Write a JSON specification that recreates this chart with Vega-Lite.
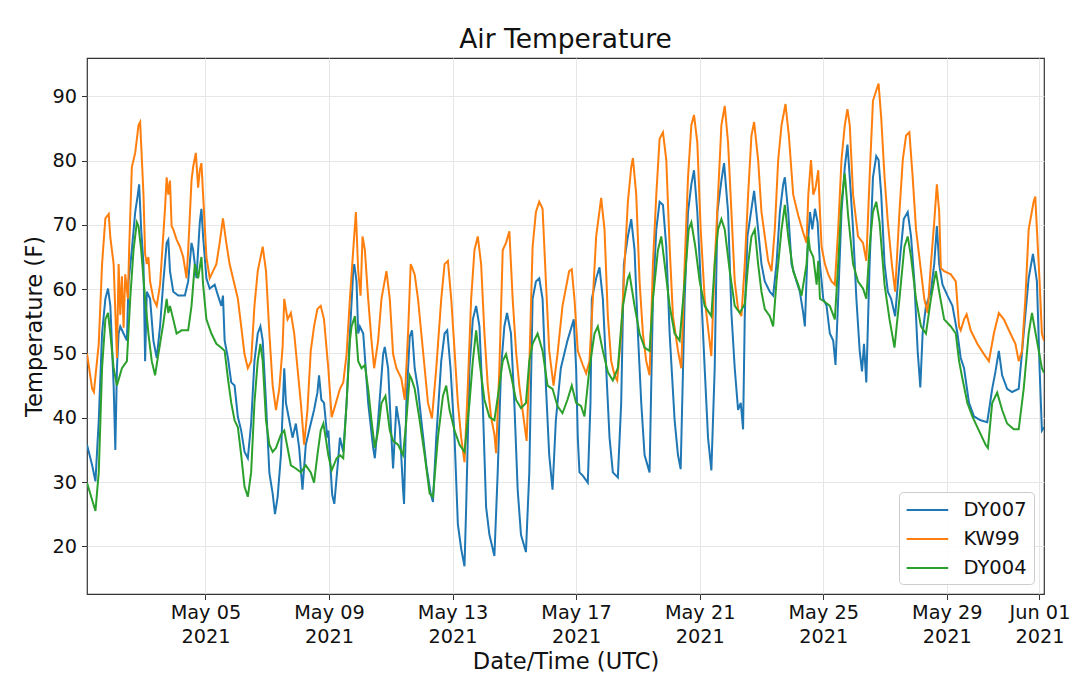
{
  "$schema": "https://vega.github.io/schema/vega-lite/v6.json",
  "width": 957,
  "height": 536,
  "autosize": {"type": "none"},
  "padding": {"left": 87, "top": 58, "right": 36, "bottom": 99},
  "background": "white",
  "title": {
    "text": "Air Temperature",
    "font": "DejaVu Sans",
    "fontSize": 26.5,
    "fontWeight": "normal",
    "color": "#111111",
    "baseline": "alphabetic",
    "offset": -16
  },
  "datasets": {
    "DY007": [
      {"t":"2021-05-01T04:00Z","v":35.8},{"t":"2021-05-01T08:00Z","v":32.6},{"t":"2021-05-01T10:34Z","v":30.1},{"t":"2021-05-01T13:08Z","v":39.6},
      {"t":"2021-05-01T15:42Z","v":53.1},{"t":"2021-05-01T18:16Z","v":58.5},{"t":"2021-05-01T20:20Z","v":60.1},{"t":"2021-05-01T22:08Z","v":57.4},
      {"t":"2021-05-02T00:42Z","v":45},{"t":"2021-05-02T02:00Z","v":35},{"t":"2021-05-02T03:16Z","v":47.7},{"t":"2021-05-02T04:34Z","v":53.1},
      {"t":"2021-05-02T05:51Z","v":54.2},{"t":"2021-05-02T08:25Z","v":53.1},{"t":"2021-05-02T11:00Z","v":52},{"t":"2021-05-02T12:17Z","v":61.2},
      {"t":"2021-05-02T14:51Z","v":66.1},{"t":"2021-05-02T17:27Z","v":72},{"t":"2021-05-02T19:29Z","v":74.7},{"t":"2021-05-02T20:31Z","v":76.3},
      {"t":"2021-05-02T22:05Z","v":69.3},{"t":"2021-05-02T23:53Z","v":63.9},{"t":"2021-05-03T01:09Z","v":48.8},{"t":"2021-05-03T02:27Z","v":59.6},
      {"t":"2021-05-03T05:01Z","v":58.5},{"t":"2021-05-03T07:35Z","v":52},{"t":"2021-05-03T10:11Z","v":49.3},{"t":"2021-05-03T12:45Z","v":54.2},
      {"t":"2021-05-03T15:19Z","v":61.2},{"t":"2021-05-03T17:53Z","v":67.2},{"t":"2021-05-03T19:11Z","v":67.7},{"t":"2021-05-03T20:28Z","v":62.8},
      {"t":"2021-05-03T23:02Z","v":59.6},{"t":"2021-05-04T02:54Z","v":59},{"t":"2021-05-04T08:02Z","v":59},{"t":"2021-05-04T10:36Z","v":61.2},
      {"t":"2021-05-04T13:12Z","v":67.2},{"t":"2021-05-04T14:28Z","v":66.1},{"t":"2021-05-04T17:02Z","v":61.7},{"t":"2021-05-04T19:38Z","v":70.4},
      {"t":"2021-05-04T20:54Z","v":72.5},{"t":"2021-05-04T22:12Z","v":68.2},{"t":"2021-05-05T00:46Z","v":61.7},{"t":"2021-05-05T03:20Z","v":60.1},
      {"t":"2021-05-05T07:12Z","v":60.7},{"t":"2021-05-05T09:47Z","v":59},{"t":"2021-05-05T12:22Z","v":57.4},{"t":"2021-05-05T13:38Z","v":59},
      {"t":"2021-05-05T14:56Z","v":52},{"t":"2021-05-05T17:30Z","v":49.3},{"t":"2021-05-05T20:04Z","v":45.5},{"t":"2021-05-05T22:39Z","v":45},
      {"t":"2021-05-06T01:13Z","v":40.1},{"t":"2021-05-06T03:48Z","v":38},{"t":"2021-05-06T06:22Z","v":34.7},{"t":"2021-05-06T08:57Z","v":33.7},
      {"t":"2021-05-06T11:31Z","v":39.1},{"t":"2021-05-06T14:05Z","v":48.8},{"t":"2021-05-06T16:39Z","v":53.1},{"t":"2021-05-06T18:43Z","v":54.2},
      {"t":"2021-05-06T20:31Z","v":52},{"t":"2021-05-06T23:05Z","v":42.3},{"t":"2021-05-07T01:41Z","v":31.4},{"t":"2021-05-07T04:15Z","v":28.2},
      {"t":"2021-05-07T06:03Z","v":25},{"t":"2021-05-07T08:07Z","v":27.7},{"t":"2021-05-07T10:41Z","v":34.2},{"t":"2021-05-07T13:15Z","v":47.7},
      {"t":"2021-05-07T14:33Z","v":42.3},{"t":"2021-05-07T17:07Z","v":39.6},{"t":"2021-05-07T19:41Z","v":36.9},{"t":"2021-05-07T22:16Z","v":39.1},
      {"t":"2021-05-08T00:50Z","v":35.3},{"t":"2021-05-08T03:24Z","v":28.8},{"t":"2021-05-08T05:59Z","v":35.8},{"t":"2021-05-08T08:34Z","v":38},
      {"t":"2021-05-08T12:24Z","v":41.2},{"t":"2021-05-08T15:00Z","v":43.9},{"t":"2021-05-08T16:16Z","v":46.6},{"t":"2021-05-08T18:04Z","v":42.8},
      {"t":"2021-05-08T20:08Z","v":42.3},{"t":"2021-05-08T22:42Z","v":36.9},{"t":"2021-05-08T23:30Z","v":38},{"t":"2021-05-09T02:30Z","v":28},
      {"t":"2021-05-09T04:08Z","v":26.6},{"t":"2021-05-09T07:13Z","v":33.7},{"t":"2021-05-09T08:31Z","v":36.9},{"t":"2021-05-09T11:05Z","v":34.7},
      {"t":"2021-05-09T13:41Z","v":42.3},{"t":"2021-05-09T16:15Z","v":53.1},{"t":"2021-05-09T18:50Z","v":62.8},{"t":"2021-05-09T19:36Z","v":63.9},
      {"t":"2021-05-09T21:24Z","v":61.2},{"t":"2021-05-09T22:42Z","v":53.1},{"t":"2021-05-10T00:00Z","v":54.2},{"t":"2021-05-10T02:36Z","v":53.1},
      {"t":"2021-05-10T06:27Z","v":42.3},{"t":"2021-05-10T10:19Z","v":35.3},{"t":"2021-05-10T11:37Z","v":33.7},{"t":"2021-05-10T14:11Z","v":39.6},
      {"t":"2021-05-10T18:04Z","v":49.9},{"t":"2021-05-10T19:21Z","v":51},{"t":"2021-05-10T21:56Z","v":47.7},{"t":"2021-05-11T00:32Z","v":36.9},
      {"t":"2021-05-11T01:48Z","v":32.1},{"t":"2021-05-11T04:24Z","v":41.8},{"t":"2021-05-11T06:58Z","v":38.5},{"t":"2021-05-11T09:33Z","v":28.8},
      {"t":"2021-05-11T10:19Z","v":26.6},{"t":"2021-05-11T12:07Z","v":42.3},{"t":"2021-05-11T14:43Z","v":52.6},{"t":"2021-05-11T16:31Z","v":53.6},
      {"t":"2021-05-11T18:35Z","v":47.7},{"t":"2021-05-11T21:10Z","v":44.5},{"t":"2021-05-11T23:44Z","v":39.6},{"t":"2021-05-12T03:37Z","v":32.6},
      {"t":"2021-05-12T06:58Z","v":28.2},{"t":"2021-05-12T08:47Z","v":26.9},{"t":"2021-05-12T11:21Z","v":36.9},{"t":"2021-05-12T15:13Z","v":48.8},
      {"t":"2021-05-12T17:48Z","v":53.1},{"t":"2021-05-12T19:52Z","v":53.6},{"t":"2021-05-12T22:26Z","v":47.7},{"t":"2021-05-13T01:34Z","v":36.9},
      {"t":"2021-05-13T04:08Z","v":23.4},{"t":"2021-05-13T06:43Z","v":19.6},{"t":"2021-05-13T09:17Z","v":16.9},{"t":"2021-05-13T10:35Z","v":26.1},
      {"t":"2021-05-13T13:09Z","v":47.7},{"t":"2021-05-13T15:45Z","v":55.3},{"t":"2021-05-13T18:19Z","v":57.4},{"t":"2021-05-13T20:54Z","v":54.2},
      {"t":"2021-05-13T23:28Z","v":42.3},{"t":"2021-05-14T02:04Z","v":26.1},{"t":"2021-05-14T04:39Z","v":21.8},{"t":"2021-05-14T08:31Z","v":18.5},
      {"t":"2021-05-14T11:05Z","v":31.5},{"t":"2021-05-14T13:41Z","v":47.7},{"t":"2021-05-14T16:15Z","v":54.2},{"t":"2021-05-14T18:19Z","v":56.3},
      {"t":"2021-05-14T21:24Z","v":53.1},{"t":"2021-05-15T00:00Z","v":42.3},{"t":"2021-05-15T02:36Z","v":28.8},{"t":"2021-05-15T05:10Z","v":21.8},
      {"t":"2021-05-15T09:01Z","v":19.1},{"t":"2021-05-15T11:37Z","v":31.5},{"t":"2021-05-15T14:11Z","v":58.5},{"t":"2021-05-15T16:47Z","v":61.2},
      {"t":"2021-05-15T19:21Z","v":61.7},{"t":"2021-05-15T21:56Z","v":58.5},{"t":"2021-05-16T00:32Z","v":45},{"t":"2021-05-16T03:06Z","v":34.2},
      {"t":"2021-05-16T05:41Z","v":28.8},{"t":"2021-05-16T08:15Z","v":39.6},{"t":"2021-05-16T12:07Z","v":47.7},{"t":"2021-05-16T17:17Z","v":52},
      {"t":"2021-05-16T22:10Z","v":55.3},{"t":"2021-05-17T00:00Z","v":47.7},{"t":"2021-05-17T01:18Z","v":36.9},{"t":"2021-05-17T02:36Z","v":31.5},
      {"t":"2021-05-17T05:11Z","v":31},{"t":"2021-05-17T09:04Z","v":29.9},{"t":"2021-05-17T11:10Z","v":42.3},{"t":"2021-05-17T12:12Z","v":58.5},
      {"t":"2021-05-17T15:35Z","v":61.7},{"t":"2021-05-17T18:10Z","v":63.4},{"t":"2021-05-17T20:46Z","v":58.5},{"t":"2021-05-17T23:21Z","v":47.7},
      {"t":"2021-05-18T01:57Z","v":36.9},{"t":"2021-05-18T04:32Z","v":31.5},{"t":"2021-05-18T08:25Z","v":30.7},{"t":"2021-05-18T11:01Z","v":42.3},
      {"t":"2021-05-18T13:06Z","v":63.9},{"t":"2021-05-18T16:13Z","v":68.2},{"t":"2021-05-18T18:49Z","v":70.9},{"t":"2021-05-18T21:24Z","v":66.1},
      {"t":"2021-05-19T00:00Z","v":53.1},{"t":"2021-05-19T02:36Z","v":42.3},{"t":"2021-05-19T05:11Z","v":34.2},{"t":"2021-05-19T09:04Z","v":31.5},
      {"t":"2021-05-19T11:40Z","v":58.5},{"t":"2021-05-19T14:17Z","v":69.3},{"t":"2021-05-19T16:52Z","v":73.6},{"t":"2021-05-19T19:28Z","v":73.1},
      {"t":"2021-05-19T22:03Z","v":66.6},{"t":"2021-05-20T00:39Z","v":53.1},{"t":"2021-05-20T04:32Z","v":39.6},{"t":"2021-05-20T07:08Z","v":34.2},
      {"t":"2021-05-20T09:13Z","v":32},{"t":"2021-05-20T12:20Z","v":58.5},{"t":"2021-05-20T14:56Z","v":72},{"t":"2021-05-20T17:31Z","v":76.3},
      {"t":"2021-05-20T19:35Z","v":78.5},{"t":"2021-05-20T22:10Z","v":72},{"t":"2021-05-21T00:46Z","v":61.2},{"t":"2021-05-21T03:53Z","v":47.7},
      {"t":"2021-05-21T06:29Z","v":36.9},{"t":"2021-05-21T09:04Z","v":31.8},{"t":"2021-05-21T11:40Z","v":47.7},{"t":"2021-05-21T13:45Z","v":72},
      {"t":"2021-05-21T16:52Z","v":76.9},{"t":"2021-05-21T18:56Z","v":79.6},{"t":"2021-05-21T22:03Z","v":72},{"t":"2021-05-22T00:39Z","v":56.3},
      {"t":"2021-05-22T03:14Z","v":47.7},{"t":"2021-05-22T05:50Z","v":41.2},{"t":"2021-05-22T07:55Z","v":42.3},{"t":"2021-05-22T09:43Z","v":38.2},
      {"t":"2021-05-22T11:01Z","v":55.8},{"t":"2021-05-22T13:06Z","v":68.2},{"t":"2021-05-22T16:13Z","v":72.5},{"t":"2021-05-22T18:17Z","v":75.3},
      {"t":"2021-05-22T21:24Z","v":69.3},{"t":"2021-05-23T00:00Z","v":63.9},{"t":"2021-05-23T02:36Z","v":61.2},{"t":"2021-05-23T06:29Z","v":59.6},
      {"t":"2021-05-23T09:04Z","v":59},{"t":"2021-05-23T11:40Z","v":63.9},{"t":"2021-05-23T14:17Z","v":72},{"t":"2021-05-23T16:52Z","v":76.3},
      {"t":"2021-05-23T18:10Z","v":77.4},{"t":"2021-05-23T20:46Z","v":72},{"t":"2021-05-23T23:21Z","v":63.9},{"t":"2021-05-24T03:14Z","v":61.2},
      {"t":"2021-05-24T05:50Z","v":59.6},{"t":"2021-05-24T08:25Z","v":56.3},{"t":"2021-05-24T09:43Z","v":54.2},{"t":"2021-05-24T11:54Z","v":66.6},
      {"t":"2021-05-24T13:42Z","v":72},{"t":"2021-05-24T15:30Z","v":69.3},{"t":"2021-05-24T17:34Z","v":72.5},{"t":"2021-05-24T19:38Z","v":70.4},
      {"t":"2021-05-24T21:26Z","v":63.9},{"t":"2021-05-25T00:00Z","v":58.5},{"t":"2021-05-25T02:34Z","v":57.4},{"t":"2021-05-25T05:08Z","v":53.1},
      {"t":"2021-05-25T07:44Z","v":52},{"t":"2021-05-25T09:32Z","v":48.2},{"t":"2021-05-25T11:36Z","v":58.5},{"t":"2021-05-25T14:10Z","v":72},
      {"t":"2021-05-25T16:44Z","v":79},{"t":"2021-05-25T18:48Z","v":82.5},{"t":"2021-05-25T20:36Z","v":77.4},{"t":"2021-05-25T23:10Z","v":69.3},
      {"t":"2021-05-26T01:44Z","v":58.5},{"t":"2021-05-26T04:19Z","v":50.4},{"t":"2021-05-26T06:07Z","v":47.2},{"t":"2021-05-26T07:39Z","v":51.5},
      {"t":"2021-05-26T09:27Z","v":45.5},{"t":"2021-05-26T12:01Z","v":63.9},{"t":"2021-05-26T14:37Z","v":77.4},{"t":"2021-05-26T17:11Z","v":80.7},
      {"t":"2021-05-26T18:59Z","v":80.1},{"t":"2021-05-26T21:03Z","v":74.7},{"t":"2021-05-26T23:37Z","v":63.9},{"t":"2021-05-27T02:11Z","v":59.6},
      {"t":"2021-05-27T04:45Z","v":58.5},{"t":"2021-05-27T07:51Z","v":55.8},{"t":"2021-05-27T11:11Z","v":63.9},{"t":"2021-05-27T14:33Z","v":70.9},
      {"t":"2021-05-27T17:38Z","v":72},{"t":"2021-05-27T20:12Z","v":68.2},{"t":"2021-05-27T22:47Z","v":61.2},{"t":"2021-05-28T01:21Z","v":50.4},
      {"t":"2021-05-28T03:24Z","v":44.7},{"t":"2021-05-28T05:12Z","v":53.1},{"t":"2021-05-28T07:47Z","v":57.4},{"t":"2021-05-28T11:38Z","v":59.6},
      {"t":"2021-05-28T14:12Z","v":63.9},{"t":"2021-05-28T16:16Z","v":69.8},{"t":"2021-05-28T18:04Z","v":63.9},{"t":"2021-05-28T20:40Z","v":60.7},
      {"t":"2021-05-29T00:30Z","v":59},{"t":"2021-05-29T04:22Z","v":57.4},{"t":"2021-05-29T08:14Z","v":53.1},{"t":"2021-05-29T10:48Z","v":49.3},
      {"t":"2021-05-29T13:24Z","v":47.7},{"t":"2021-05-29T17:14Z","v":42.3},{"t":"2021-05-29T21:06Z","v":40.2},{"t":"2021-05-30T02:15Z","v":39.6},
      {"t":"2021-05-30T07:24Z","v":39.3},{"t":"2021-05-30T11:15Z","v":44.5},{"t":"2021-05-30T13:49Z","v":47.2},{"t":"2021-05-30T16:25Z","v":50.4},
      {"t":"2021-05-30T18:59Z","v":46.6},{"t":"2021-05-30T22:51Z","v":44.5},{"t":"2021-05-31T02:43Z","v":44},{"t":"2021-05-31T07:51Z","v":44.5},
      {"t":"2021-05-31T11:43Z","v":53.1},{"t":"2021-05-31T15:35Z","v":61.7},{"t":"2021-05-31T18:55Z","v":65.5},{"t":"2021-05-31T22:00Z","v":61.2},
      {"t":"2021-06-01T00:04Z","v":47.7},{"t":"2021-06-01T01:52Z","v":38},{"t":"2021-06-01T03:30Z","v":38.5}
    ],
    "KW99": [
      {"t":"2021-05-01T04:00Z","v":50},{"t":"2021-05-01T08:00Z","v":44.5},{"t":"2021-05-01T09:20Z","v":44},{"t":"2021-05-01T13:08Z","v":51.5},
      {"t":"2021-05-01T15:42Z","v":63.9},{"t":"2021-05-01T18:16Z","v":71},{"t":"2021-05-01T20:53Z","v":71.7},{"t":"2021-05-01T22:08Z","v":68},
      {"t":"2021-05-02T00:42Z","v":63.9},{"t":"2021-05-02T03:16Z","v":49.3},{"t":"2021-05-02T04:34Z","v":63.9},{"t":"2021-05-02T05:51Z","v":56},
      {"t":"2021-05-02T07:08Z","v":62},{"t":"2021-05-02T08:25Z","v":54},{"t":"2021-05-02T09:43Z","v":62.3},{"t":"2021-05-02T11:47Z","v":58.5},
      {"t":"2021-05-02T12:43Z","v":66},{"t":"2021-05-02T14:51Z","v":79},{"t":"2021-05-02T17:27Z","v":81.2},{"t":"2021-05-02T20:01Z","v":85.5},
      {"t":"2021-05-02T21:17Z","v":86},{"t":"2021-05-02T23:53Z","v":74.7},{"t":"2021-05-03T01:09Z","v":65.5},{"t":"2021-05-03T02:27Z","v":63.9},
      {"t":"2021-05-03T03:43Z","v":65},{"t":"2021-05-03T05:01Z","v":61.2},{"t":"2021-05-03T07:35Z","v":58.5},{"t":"2021-05-03T10:11Z","v":57.4},
      {"t":"2021-05-03T12:45Z","v":60.7},{"t":"2021-05-03T16:36Z","v":72.5},{"t":"2021-05-03T17:53Z","v":77.4},{"t":"2021-05-03T19:11Z","v":74.7},
      {"t":"2021-05-03T20:28Z","v":76.9},{"t":"2021-05-03T21:45Z","v":69.8},{"t":"2021-05-03T23:02Z","v":69.3},{"t":"2021-05-04T01:36Z","v":67.7},
      {"t":"2021-05-04T04:11Z","v":66.6},{"t":"2021-05-04T06:46Z","v":65},{"t":"2021-05-04T09:20Z","v":61.7},{"t":"2021-05-04T10:36Z","v":66},
      {"t":"2021-05-04T13:12Z","v":76.9},{"t":"2021-05-04T14:28Z","v":79},{"t":"2021-05-04T16:32Z","v":81.2},{"t":"2021-05-04T18:20Z","v":75.8},
      {"t":"2021-05-04T19:38Z","v":78.5},{"t":"2021-05-04T20:54Z","v":79.6},{"t":"2021-05-04T22:12Z","v":74.7},{"t":"2021-05-05T00:46Z","v":65},
      {"t":"2021-05-05T03:20Z","v":61.7},{"t":"2021-05-05T05:55Z","v":62.8},{"t":"2021-05-05T08:30Z","v":63.9},{"t":"2021-05-05T11:04Z","v":67.2},
      {"t":"2021-05-05T13:38Z","v":71},{"t":"2021-05-05T16:13Z","v":67.2},{"t":"2021-05-05T18:47Z","v":63.9},{"t":"2021-05-05T22:39Z","v":60.7},
      {"t":"2021-05-06T01:13Z","v":58.5},{"t":"2021-05-06T03:48Z","v":54.2},{"t":"2021-05-06T06:22Z","v":49.9},{"t":"2021-05-06T08:57Z","v":47.7},
      {"t":"2021-05-06T11:31Z","v":48.8},{"t":"2021-05-06T14:05Z","v":57.4},{"t":"2021-05-06T16:39Z","v":62.8},{"t":"2021-05-06T20:31Z","v":66.6},
      {"t":"2021-05-06T23:05Z","v":62.8},{"t":"2021-05-07T01:41Z","v":53.1},{"t":"2021-05-07T04:15Z","v":45},{"t":"2021-05-07T06:49Z","v":41.2},
      {"t":"2021-05-07T09:23Z","v":44.5},{"t":"2021-05-07T11:59Z","v":51},{"t":"2021-05-07T13:15Z","v":58.5},{"t":"2021-05-07T15:50Z","v":55.3},
      {"t":"2021-05-07T18:24Z","v":56.3},{"t":"2021-05-07T20:59Z","v":53.1},{"t":"2021-05-07T23:33Z","v":47.7},{"t":"2021-05-08T02:07Z","v":42.3},
      {"t":"2021-05-08T04:42Z","v":35.8},{"t":"2021-05-08T07:16Z","v":41.2},{"t":"2021-05-08T09:50Z","v":50.4},{"t":"2021-05-08T12:24Z","v":54.2},
      {"t":"2021-05-08T15:00Z","v":56.9},{"t":"2021-05-08T17:34Z","v":57.4},{"t":"2021-05-08T20:08Z","v":55.3},{"t":"2021-05-08T23:28Z","v":47.7},
      {"t":"2021-05-09T02:04Z","v":40.1},{"t":"2021-05-09T04:40Z","v":41.8},{"t":"2021-05-09T08:31Z","v":44.5},{"t":"2021-05-09T11:05Z","v":45.5},
      {"t":"2021-05-09T13:41Z","v":49.9},{"t":"2021-05-09T16:15Z","v":58.5},{"t":"2021-05-09T18:50Z","v":66.1},{"t":"2021-05-09T20:54Z","v":72},
      {"t":"2021-05-09T22:42Z","v":62.8},{"t":"2021-05-10T00:32Z","v":59},{"t":"2021-05-10T02:04Z","v":68.2},{"t":"2021-05-10T03:52Z","v":66.1},
      {"t":"2021-05-10T06:27Z","v":58.5},{"t":"2021-05-10T09:01Z","v":52},{"t":"2021-05-10T11:05Z","v":47.7},{"t":"2021-05-10T14:11Z","v":52},
      {"t":"2021-05-10T16:47Z","v":58.5},{"t":"2021-05-10T20:38Z","v":62.8},{"t":"2021-05-10T23:14Z","v":58.5},{"t":"2021-05-11T01:48Z","v":49.9},
      {"t":"2021-05-11T04:24Z","v":47.7},{"t":"2021-05-11T08:15Z","v":46.1},{"t":"2021-05-11T10:51Z","v":42.8},{"t":"2021-05-11T13:25Z","v":53.1},
      {"t":"2021-05-11T15:29Z","v":63.9},{"t":"2021-05-11T18:35Z","v":62.3},{"t":"2021-05-11T21:10Z","v":58.5},{"t":"2021-05-11T23:44Z","v":53.1},
      {"t":"2021-05-12T02:20Z","v":47.7},{"t":"2021-05-12T04:54Z","v":42.3},{"t":"2021-05-12T08:00Z","v":39.9},{"t":"2021-05-12T11:21Z","v":47.7},
      {"t":"2021-05-12T15:13Z","v":58.5},{"t":"2021-05-12T17:48Z","v":63.9},{"t":"2021-05-12T20:23Z","v":64.4},{"t":"2021-05-12T22:58Z","v":58.5},
      {"t":"2021-05-13T01:34Z","v":50.4},{"t":"2021-05-13T04:08Z","v":42.3},{"t":"2021-05-13T06:43Z","v":36.9},{"t":"2021-05-13T09:17Z","v":33.1},
      {"t":"2021-05-13T11:53Z","v":45},{"t":"2021-05-13T14:27Z","v":58.5},{"t":"2021-05-13T17:02Z","v":66.1},{"t":"2021-05-13T19:36Z","v":68.2},
      {"t":"2021-05-13T22:12Z","v":63.9},{"t":"2021-05-14T00:46Z","v":53.1},{"t":"2021-05-14T03:22Z","v":45},{"t":"2021-05-14T05:56Z","v":40.1},
      {"t":"2021-05-14T08:31Z","v":37.4},{"t":"2021-05-14T09:49Z","v":34.5},{"t":"2021-05-14T12:23Z","v":47.7},{"t":"2021-05-14T14:59Z","v":66.1},
      {"t":"2021-05-14T17:33Z","v":67.2},{"t":"2021-05-14T20:08Z","v":69},{"t":"2021-05-14T22:42Z","v":58.5},{"t":"2021-05-15T01:18Z","v":50.4},
      {"t":"2021-05-15T03:52Z","v":45},{"t":"2021-05-15T07:45Z","v":39.1},{"t":"2021-05-15T09:33Z","v":36.4},{"t":"2021-05-15T11:37Z","v":47.7},
      {"t":"2021-05-15T14:11Z","v":66.6},{"t":"2021-05-15T16:47Z","v":72},{"t":"2021-05-15T19:21Z","v":73.6},{"t":"2021-05-15T21:56Z","v":72.5},
      {"t":"2021-05-16T00:32Z","v":61.2},{"t":"2021-05-16T03:06Z","v":50.4},{"t":"2021-05-16T06:27Z","v":45},{"t":"2021-05-16T09:33Z","v":49.9},
      {"t":"2021-05-16T13:25Z","v":57.4},{"t":"2021-05-16T18:35Z","v":62.8},{"t":"2021-05-16T20:37Z","v":63.1},{"t":"2021-05-16T22:42Z","v":58.5},
      {"t":"2021-05-17T01:18Z","v":50.4},{"t":"2021-05-17T05:11Z","v":48.2},{"t":"2021-05-17T07:47Z","v":46.9},{"t":"2021-05-17T10:22Z","v":48.8},
      {"t":"2021-05-17T12:59Z","v":58.5},{"t":"2021-05-17T15:35Z","v":68.2},{"t":"2021-05-17T19:28Z","v":74.2},{"t":"2021-05-17T22:03Z","v":69.3},
      {"t":"2021-05-18T00:39Z","v":55.8},{"t":"2021-05-18T03:14Z","v":48.8},{"t":"2021-05-18T05:50Z","v":46.6},{"t":"2021-05-18T07:55Z","v":45.8},
      {"t":"2021-05-18T11:01Z","v":53.1},{"t":"2021-05-18T13:38Z","v":63.9},{"t":"2021-05-18T16:13Z","v":73.6},{"t":"2021-05-18T18:49Z","v":79},
      {"t":"2021-05-18T20:07Z","v":80.4},{"t":"2021-05-18T22:42Z","v":74.7},{"t":"2021-05-19T01:18Z","v":61.2},{"t":"2021-05-19T03:53Z","v":53.1},
      {"t":"2021-05-19T06:29Z","v":48.8},{"t":"2021-05-19T09:04Z","v":46.6},{"t":"2021-05-19T11:40Z","v":63.9},{"t":"2021-05-19T14:17Z","v":74.7},
      {"t":"2021-05-19T16:52Z","v":83.4},{"t":"2021-05-19T19:28Z","v":84.4},{"t":"2021-05-19T22:03Z","v":80.1},{"t":"2021-05-20T00:39Z","v":66.6},
      {"t":"2021-05-20T03:14Z","v":55.8},{"t":"2021-05-20T07:08Z","v":50.4},{"t":"2021-05-20T09:43Z","v":47.7},{"t":"2021-05-20T12:20Z","v":63.9},
      {"t":"2021-05-20T14:56Z","v":77.4},{"t":"2021-05-20T17:31Z","v":85.5},{"t":"2021-05-20T19:35Z","v":87.1},{"t":"2021-05-20T22:10Z","v":82.8},
      {"t":"2021-05-21T00:46Z","v":69.3},{"t":"2021-05-21T03:53Z","v":58.5},{"t":"2021-05-21T07:00Z","v":53.1},{"t":"2021-05-21T09:04Z","v":49.6},
      {"t":"2021-05-21T11:40Z","v":63.9},{"t":"2021-05-21T14:17Z","v":74.7},{"t":"2021-05-21T16:52Z","v":85.5},{"t":"2021-05-21T19:28Z","v":88.5},
      {"t":"2021-05-21T22:03Z","v":82.8},{"t":"2021-05-22T00:39Z","v":72},{"t":"2021-05-22T03:14Z","v":61.2},{"t":"2021-05-22T05:50Z","v":56.9},
      {"t":"2021-05-22T08:25Z","v":55.8},{"t":"2021-05-22T11:01Z","v":63.9},{"t":"2021-05-22T13:38Z","v":74.7},{"t":"2021-05-22T16:13Z","v":83.9},
      {"t":"2021-05-22T18:17Z","v":86},{"t":"2021-05-22T21:24Z","v":80.1},{"t":"2021-05-23T00:00Z","v":72},{"t":"2021-05-23T02:36Z","v":68.2},
      {"t":"2021-05-23T05:11Z","v":64.4},{"t":"2021-05-23T07:47Z","v":62.8},{"t":"2021-05-23T10:22Z","v":69.3},{"t":"2021-05-23T12:59Z","v":80.1},
      {"t":"2021-05-23T15:35Z","v":85.5},{"t":"2021-05-23T18:40Z","v":88.8},{"t":"2021-05-23T21:16Z","v":83.9},{"t":"2021-05-24T00:39Z","v":74.7},
      {"t":"2021-05-24T04:32Z","v":71.5},{"t":"2021-05-24T08:25Z","v":68.8},{"t":"2021-05-24T11:01Z","v":67.2},{"t":"2021-05-24T12:24Z","v":74.7},
      {"t":"2021-05-24T14:28Z","v":80.1},{"t":"2021-05-24T16:16Z","v":74.7},{"t":"2021-05-24T18:04Z","v":75.8},{"t":"2021-05-24T20:08Z","v":78.5},
      {"t":"2021-05-24T21:26Z","v":72},{"t":"2021-05-24T22:42Z","v":66.6},{"t":"2021-05-25T01:18Z","v":63.9},{"t":"2021-05-25T03:52Z","v":62.3},
      {"t":"2021-05-25T06:26Z","v":61.2},{"t":"2021-05-25T09:00Z","v":60.7},{"t":"2021-05-25T11:36Z","v":69.3},{"t":"2021-05-25T14:10Z","v":80.1},
      {"t":"2021-05-25T16:44Z","v":85.5},{"t":"2021-05-25T18:48Z","v":88},{"t":"2021-05-25T20:36Z","v":85.5},{"t":"2021-05-25T23:10Z","v":74.7},
      {"t":"2021-05-26T03:01Z","v":68.2},{"t":"2021-05-26T06:53Z","v":67.2},{"t":"2021-05-26T09:27Z","v":64.4},{"t":"2021-05-26T12:01Z","v":77.4},
      {"t":"2021-05-26T14:37Z","v":89.3},{"t":"2021-05-26T17:11Z","v":90.9},{"t":"2021-05-26T18:59Z","v":92},{"t":"2021-05-26T21:03Z","v":86.6},
      {"t":"2021-05-26T23:37Z","v":77.4},{"t":"2021-05-27T02:11Z","v":70.4},{"t":"2021-05-27T05:17Z","v":63.9},{"t":"2021-05-27T07:51Z","v":59.6},
      {"t":"2021-05-27T11:11Z","v":72},{"t":"2021-05-27T13:47Z","v":80.1},{"t":"2021-05-27T16:21Z","v":83.9},{"t":"2021-05-27T18:55Z","v":84.4},
      {"t":"2021-05-27T21:29Z","v":77.4},{"t":"2021-05-28T00:04Z","v":69.3},{"t":"2021-05-28T03:56Z","v":62.8},{"t":"2021-05-28T06:30Z","v":58.5},
      {"t":"2021-05-28T09:04Z","v":56.3},{"t":"2021-05-28T11:38Z","v":63.9},{"t":"2021-05-28T14:12Z","v":70.4},{"t":"2021-05-28T16:16Z","v":76.3},
      {"t":"2021-05-28T18:04Z","v":72},{"t":"2021-05-28T19:22Z","v":63.3},{"t":"2021-05-28T21:56Z","v":62.8},{"t":"2021-05-29T03:06Z","v":62.3},
      {"t":"2021-05-29T06:58Z","v":61.2},{"t":"2021-05-29T09:32Z","v":54.2},{"t":"2021-05-29T10:48Z","v":53.6},{"t":"2021-05-29T13:24Z","v":55.3},
      {"t":"2021-05-29T15:26Z","v":56.1},{"t":"2021-05-29T18:32Z","v":53.6},{"t":"2021-05-29T23:41Z","v":51.5},{"t":"2021-05-30T04:49Z","v":49.9},
      {"t":"2021-05-30T08:41Z","v":48.8},{"t":"2021-05-30T12:33Z","v":53.1},{"t":"2021-05-30T16:25Z","v":56.3},{"t":"2021-05-30T20:17Z","v":55.3},
      {"t":"2021-05-31T01:25Z","v":53.1},{"t":"2021-05-31T05:17Z","v":51.5},{"t":"2021-05-31T07:51Z","v":48.8},{"t":"2021-05-31T10:25Z","v":50.4},
      {"t":"2021-05-31T13:01Z","v":58.5},{"t":"2021-05-31T15:35Z","v":69.3},{"t":"2021-05-31T19:26Z","v":73.6},{"t":"2021-05-31T20:43Z","v":74.4},
      {"t":"2021-05-31T22:00Z","v":69.3},{"t":"2021-06-01T00:04Z","v":61.2},{"t":"2021-06-01T01:52Z","v":53.1},{"t":"2021-06-01T03:30Z","v":52}
    ],
    "DY004": [
      {"t":"2021-05-01T04:00Z","v":29.9},{"t":"2021-05-01T08:00Z","v":27.2},{"t":"2021-05-01T10:34Z","v":25.5},{"t":"2021-05-01T13:08Z","v":31.5},
      {"t":"2021-05-01T15:42Z","v":47.7},{"t":"2021-05-01T18:16Z","v":55.3},{"t":"2021-05-01T20:20Z","v":56.3},{"t":"2021-05-01T22:08Z","v":53.1},
      {"t":"2021-05-02T00:42Z","v":47.7},{"t":"2021-05-02T03:16Z","v":45},{"t":"2021-05-02T07:08Z","v":47.7},{"t":"2021-05-02T11:00Z","v":48.8},
      {"t":"2021-05-02T13:35Z","v":58.5},{"t":"2021-05-02T16:09Z","v":66.1},{"t":"2021-05-02T18:43Z","v":70.4},{"t":"2021-05-02T20:01Z","v":69.8},
      {"t":"2021-05-02T22:05Z","v":66.1},{"t":"2021-05-03T01:09Z","v":58.5},{"t":"2021-05-03T03:43Z","v":53.1},{"t":"2021-05-03T06:19Z","v":48.8},
      {"t":"2021-05-03T08:53Z","v":46.6},{"t":"2021-05-03T11:27Z","v":49.9},{"t":"2021-05-03T15:19Z","v":54.7},{"t":"2021-05-03T17:53Z","v":58.5},
      {"t":"2021-05-03T19:11Z","v":56.3},{"t":"2021-05-03T20:28Z","v":57.4},{"t":"2021-05-03T23:02Z","v":55.3},{"t":"2021-05-04T01:36Z","v":53.1},
      {"t":"2021-05-04T05:28Z","v":53.6},{"t":"2021-05-04T10:36Z","v":53.6},{"t":"2021-05-04T13:12Z","v":57.4},{"t":"2021-05-04T15:46Z","v":63.9},
      {"t":"2021-05-04T18:20Z","v":61.7},{"t":"2021-05-04T20:54Z","v":65},{"t":"2021-05-04T22:12Z","v":60.7},{"t":"2021-05-05T00:46Z","v":55.3},
      {"t":"2021-05-05T04:38Z","v":53.1},{"t":"2021-05-05T08:30Z","v":51.5},{"t":"2021-05-05T12:22Z","v":50.9},{"t":"2021-05-05T14:56Z","v":50.4},
      {"t":"2021-05-05T17:30Z","v":46.1},{"t":"2021-05-05T20:04Z","v":42.3},{"t":"2021-05-05T22:39Z","v":39.6},{"t":"2021-05-06T01:13Z","v":38.5},
      {"t":"2021-05-06T03:48Z","v":34.2},{"t":"2021-05-06T06:22Z","v":29.3},{"t":"2021-05-06T08:57Z","v":27.7},{"t":"2021-05-06T11:31Z","v":31.5},
      {"t":"2021-05-06T14:05Z","v":42.3},{"t":"2021-05-06T16:39Z","v":48.8},{"t":"2021-05-06T18:43Z","v":51.5},{"t":"2021-05-06T20:31Z","v":48.8},
      {"t":"2021-05-06T23:05Z","v":39.6},{"t":"2021-05-07T01:41Z","v":35.8},{"t":"2021-05-07T04:15Z","v":34.7},{"t":"2021-05-07T06:49Z","v":35.3},
      {"t":"2021-05-07T10:41Z","v":37.4},{"t":"2021-05-07T13:15Z","v":38},{"t":"2021-05-07T15:50Z","v":35.3},{"t":"2021-05-07T18:24Z","v":32.6},
      {"t":"2021-05-07T22:16Z","v":32.1},{"t":"2021-05-08T02:07Z","v":31.5},{"t":"2021-05-08T05:59Z","v":32.6},{"t":"2021-05-08T09:50Z","v":31.5},
      {"t":"2021-05-08T12:24Z","v":29.9},{"t":"2021-05-08T15:00Z","v":34.2},{"t":"2021-05-08T17:34Z","v":38},{"t":"2021-05-08T19:38Z","v":39.1},
      {"t":"2021-05-08T21:26Z","v":36.9},{"t":"2021-05-08T23:28Z","v":34.2},{"t":"2021-05-09T02:04Z","v":31.8},{"t":"2021-05-09T05:56Z","v":33.7},
      {"t":"2021-05-09T08:31Z","v":34.2},{"t":"2021-05-09T11:05Z","v":33.7},{"t":"2021-05-09T13:41Z","v":42.3},{"t":"2021-05-09T16:15Z","v":52},
      {"t":"2021-05-09T17:33Z","v":54.2},{"t":"2021-05-09T20:08Z","v":55.8},{"t":"2021-05-09T22:42Z","v":48.8},{"t":"2021-05-10T01:18Z","v":47.7},
      {"t":"2021-05-10T03:52Z","v":48.2},{"t":"2021-05-10T06:27Z","v":44.5},{"t":"2021-05-10T09:01Z","v":39.6},{"t":"2021-05-10T11:37Z","v":35.3},
      {"t":"2021-05-10T14:11Z","v":38},{"t":"2021-05-10T16:47Z","v":42.3},{"t":"2021-05-10T19:52Z","v":43.4},{"t":"2021-05-10T23:14Z","v":38},
      {"t":"2021-05-11T01:48Z","v":36.4},{"t":"2021-05-11T05:41Z","v":35.8},{"t":"2021-05-11T09:33Z","v":34.2},{"t":"2021-05-11T12:07Z","v":39.6},
      {"t":"2021-05-11T14:43Z","v":46.6},{"t":"2021-05-11T16:00Z","v":46.1},{"t":"2021-05-11T18:35Z","v":44.5},{"t":"2021-05-11T22:26Z","v":39.6},
      {"t":"2021-05-12T02:20Z","v":34.2},{"t":"2021-05-12T06:11Z","v":28.2},{"t":"2021-05-12T08:47Z","v":27.7},{"t":"2021-05-12T12:38Z","v":36.9},
      {"t":"2021-05-12T16:31Z","v":43.4},{"t":"2021-05-12T19:06Z","v":45},{"t":"2021-05-12T21:40Z","v":41.2},{"t":"2021-05-13T01:34Z","v":38},
      {"t":"2021-05-13T05:25Z","v":35.8},{"t":"2021-05-13T09:17Z","v":34.7},{"t":"2021-05-13T13:09Z","v":42.3},{"t":"2021-05-13T15:45Z","v":48.8},
      {"t":"2021-05-13T18:19Z","v":53.6},{"t":"2021-05-13T20:54Z","v":48.8},{"t":"2021-05-14T00:46Z","v":42.8},{"t":"2021-05-14T04:39Z","v":40.1},
      {"t":"2021-05-14T08:31Z","v":39.6},{"t":"2021-05-14T12:23Z","v":45},{"t":"2021-05-14T14:59Z","v":48.8},{"t":"2021-05-14T17:33Z","v":49.9},
      {"t":"2021-05-14T21:24Z","v":46.6},{"t":"2021-05-15T01:18Z","v":42.8},{"t":"2021-05-15T05:10Z","v":41.5},{"t":"2021-05-15T09:01Z","v":42.3},
      {"t":"2021-05-15T11:37Z","v":48.8},{"t":"2021-05-15T14:11Z","v":51.5},{"t":"2021-05-15T18:04Z","v":53.1},{"t":"2021-05-15T21:56Z","v":50.4},
      {"t":"2021-05-16T01:48Z","v":45},{"t":"2021-05-16T05:41Z","v":44.5},{"t":"2021-05-16T09:33Z","v":41.8},{"t":"2021-05-16T13:25Z","v":40.7},
      {"t":"2021-05-16T17:17Z","v":42.8},{"t":"2021-05-16T20:37Z","v":45},{"t":"2021-05-17T00:00Z","v":42.3},{"t":"2021-05-17T03:53Z","v":41.8},
      {"t":"2021-05-17T06:29Z","v":40.2},{"t":"2021-05-17T10:22Z","v":47.7},{"t":"2021-05-17T14:17Z","v":53.1},{"t":"2021-05-17T16:52Z","v":54.2},
      {"t":"2021-05-17T20:46Z","v":50.4},{"t":"2021-05-18T00:39Z","v":47.1},{"t":"2021-05-18T04:32Z","v":45.8},{"t":"2021-05-18T08:25Z","v":47.7},
      {"t":"2021-05-18T12:20Z","v":57.4},{"t":"2021-05-18T16:13Z","v":61.7},{"t":"2021-05-18T17:31Z","v":62.3},{"t":"2021-05-18T21:24Z","v":57.4},
      {"t":"2021-05-19T01:18Z","v":53.1},{"t":"2021-05-19T05:11Z","v":50.9},{"t":"2021-05-19T09:04Z","v":50.4},{"t":"2021-05-19T11:40Z","v":58.5},
      {"t":"2021-05-19T15:35Z","v":66.1},{"t":"2021-05-19T18:10Z","v":68.2},{"t":"2021-05-19T20:46Z","v":63.9},{"t":"2021-05-20T00:39Z","v":57.4},
      {"t":"2021-05-20T04:32Z","v":53.1},{"t":"2021-05-20T08:25Z","v":52},{"t":"2021-05-20T12:20Z","v":61.2},{"t":"2021-05-20T15:26Z","v":69.3},
      {"t":"2021-05-20T17:31Z","v":70.4},{"t":"2021-05-20T20:37Z","v":66.6},{"t":"2021-05-21T00:00Z","v":61.2},{"t":"2021-05-21T03:53Z","v":57.4},
      {"t":"2021-05-21T09:04Z","v":55.8},{"t":"2021-05-21T11:40Z","v":63.9},{"t":"2021-05-21T14:17Z","v":69.3},{"t":"2021-05-21T16:52Z","v":70.9},
      {"t":"2021-05-21T19:28Z","v":69.3},{"t":"2021-05-21T23:21Z","v":62.8},{"t":"2021-05-22T03:14Z","v":57.4},{"t":"2021-05-22T07:08Z","v":56.3},
      {"t":"2021-05-22T11:01Z","v":57.7},{"t":"2021-05-22T13:38Z","v":63.9},{"t":"2021-05-22T16:13Z","v":68.2},{"t":"2021-05-22T18:49Z","v":69.3},
      {"t":"2021-05-22T21:24Z","v":63.9},{"t":"2021-05-23T00:00Z","v":59.6},{"t":"2021-05-23T02:36Z","v":56.9},{"t":"2021-05-23T06:29Z","v":55.8},
      {"t":"2021-05-23T09:04Z","v":54.2},{"t":"2021-05-23T11:40Z","v":61.2},{"t":"2021-05-23T15:35Z","v":69.3},{"t":"2021-05-23T18:10Z","v":73.1},
      {"t":"2021-05-23T20:46Z","v":68.2},{"t":"2021-05-24T00:39Z","v":62.8},{"t":"2021-05-24T04:32Z","v":60.7},{"t":"2021-05-24T07:08Z","v":59},
      {"t":"2021-05-24T11:01Z","v":63.9},{"t":"2021-05-24T12:24Z","v":68.2},{"t":"2021-05-24T13:42Z","v":66.1},{"t":"2021-05-24T16:16Z","v":65},
      {"t":"2021-05-24T18:52Z","v":60.7},{"t":"2021-05-24T20:08Z","v":64.4},{"t":"2021-05-24T21:26Z","v":58.5},{"t":"2021-05-25T01:18Z","v":58},
      {"t":"2021-05-25T05:08Z","v":57.4},{"t":"2021-05-25T09:00Z","v":55.3},{"t":"2021-05-25T11:36Z","v":63.9},{"t":"2021-05-25T14:10Z","v":73.6},
      {"t":"2021-05-25T16:44Z","v":78},{"t":"2021-05-25T19:18Z","v":71.5},{"t":"2021-05-25T23:10Z","v":63.9},{"t":"2021-05-26T03:01Z","v":61.2},
      {"t":"2021-05-26T06:53Z","v":60.1},{"t":"2021-05-26T09:27Z","v":58.5},{"t":"2021-05-26T12:01Z","v":66.6},{"t":"2021-05-26T14:37Z","v":72},
      {"t":"2021-05-26T17:11Z","v":73.6},{"t":"2021-05-26T19:45Z","v":70.4},{"t":"2021-05-26T23:37Z","v":60.7},{"t":"2021-05-27T03:29Z","v":55.3},
      {"t":"2021-05-27T07:21Z","v":50.9},{"t":"2021-05-27T11:11Z","v":58.5},{"t":"2021-05-27T15:03Z","v":66.6},{"t":"2021-05-27T17:38Z","v":68.2},
      {"t":"2021-05-27T20:12Z","v":65},{"t":"2021-05-28T00:04Z","v":58.5},{"t":"2021-05-28T03:56Z","v":54.2},{"t":"2021-05-28T07:47Z","v":53.1},
      {"t":"2021-05-28T11:38Z","v":58.5},{"t":"2021-05-28T15:30Z","v":62.8},{"t":"2021-05-28T18:04Z","v":59.6},{"t":"2021-05-28T21:56Z","v":55.3},
      {"t":"2021-05-29T03:06Z","v":54.2},{"t":"2021-05-29T06:58Z","v":53.1},{"t":"2021-05-29T09:32Z","v":48.8},{"t":"2021-05-29T12:06Z","v":46.1},
      {"t":"2021-05-29T15:58Z","v":42.3},{"t":"2021-05-29T19:49Z","v":40.2},{"t":"2021-05-30T00:58Z","v":38},{"t":"2021-05-30T06:07Z","v":35.8},
      {"t":"2021-05-30T07:55Z","v":35.3},{"t":"2021-05-30T11:15Z","v":42.3},{"t":"2021-05-30T15:07Z","v":43.9},{"t":"2021-05-30T18:59Z","v":41.2},
      {"t":"2021-05-30T22:51Z","v":39.1},{"t":"2021-05-31T03:59Z","v":38.2},{"t":"2021-05-31T07:51Z","v":38.2},{"t":"2021-05-31T11:43Z","v":44.5},
      {"t":"2021-05-31T15:35Z","v":53.1},{"t":"2021-05-31T18:09Z","v":56.3},{"t":"2021-05-31T22:00Z","v":52},{"t":"2021-06-01T01:52Z","v":47.7},
      {"t":"2021-06-01T03:30Z","v":47}
    ]
  },
  "encoding": {
    "x": {
      "field": "t",
      "type": "temporal",
      "title": "Date/Time (UTC)",
      "scale": {
        "type": "utc",
        "domain": [
          {"year": 2021, "month": 5, "date": 1, "hours": 4, "utc": true},
          {"year": 2021, "month": 6, "date": 1, "hours": 3, "minutes": 30, "utc": true}
        ]
      },
      "axis": {
        "values": [
          {"year": 2021, "month": 5, "date": 5, "utc": true},
          {"year": 2021, "month": 5, "date": 9, "utc": true},
          {"year": 2021, "month": 5, "date": 13, "utc": true},
          {"year": 2021, "month": 5, "date": 17, "utc": true},
          {"year": 2021, "month": 5, "date": 21, "utc": true},
          {"year": 2021, "month": 5, "date": 25, "utc": true},
          {"year": 2021, "month": 5, "date": 29, "utc": true},
          {"year": 2021, "month": 6, "date": 1, "utc": true}
        ],
        "labelExpr": "[utcFormat(datum.value, '%b %d'), utcFormat(datum.value, '%Y')]",
        "labelLineHeight": 23.5,
        "labelFlush": false,
        "labelOverlap": false,
        "labelPadding": 4,
        "titlePadding": 4
      }
    },
    "y": {
      "field": "v",
      "type": "quantitative",
      "title": "Temperature (F)",
      "scale": {"domain": [12.58, 95.96], "nice": false, "zero": false},
      "axis": {
        "values": [20, 30, 40, 50, 60, 70, 80, 90],
        "labelPadding": 5,
        "titlePadding": 5
      }
    }
  },
  "layer": [
    {
      "data": {"name": "DY007"},
      "mark": {"type": "line", "strokeWidth": 2, "clip": true},
      "encoding": {
        "color": {
          "datum": "DY007",
          "type": "nominal",
          "scale": {"domain": ["DY007", "KW99", "DY004"], "range": ["#1f77b4", "#ff7f0e", "#2ca02c"]},
          "legend": {
            "title": null,
            "orient": "bottom-right",
            "offset": 10,
            "symbolType": "M-1,0H3",
            "symbolSize": 433,
            "symbolStrokeWidth": 2,
            "labelOffset": 35,
            "rowPadding": 8,
            "padding": 6.5,
            "fillColor": "rgba(255,255,255,0.85)",
            "strokeColor": "#cccccc",
            "cornerRadius": 4,
            "labelFont": "DejaVu Sans",
            "labelFontSize": 19.5,
            "labelColor": "#111111"
          }
        }
      }
    },
    {
      "data": {"name": "KW99"},
      "mark": {"type": "line", "strokeWidth": 2, "clip": true},
      "encoding": {"color": {"datum": "KW99", "type": "nominal"}}
    },
    {
      "data": {"name": "DY004"},
      "mark": {"type": "line", "strokeWidth": 2, "clip": true},
      "encoding": {"color": {"datum": "DY004", "type": "nominal"}}
    }
  ],
  "config": {
    "font": "DejaVu Sans",
    "view": {"stroke": "#333333", "strokeWidth": 1.2},
    "axis": {
      "domain": false,
      "grid": true,
      "gridColor": "#e6e6e6",
      "gridWidth": 1,
      "tickColor": "#333333",
      "tickSize": 5.5,
      "tickWidth": 1,
      "labelFont": "DejaVu Sans",
      "labelFontSize": 19.3,
      "labelColor": "#111111",
      "titleFont": "DejaVu Sans",
      "titleFontSize": 22.6,
      "titleFontWeight": "normal",
      "titleColor": "#111111"
    }
  }
}
